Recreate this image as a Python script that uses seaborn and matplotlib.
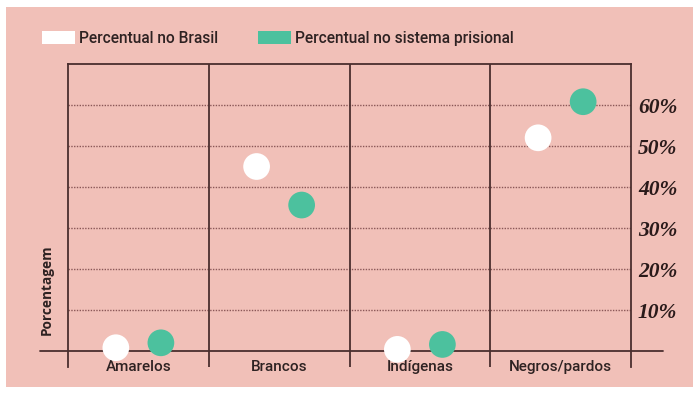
import matplotlib
matplotlib.use("Agg")
import matplotlib.pyplot as plt
from matplotlib.patches import Patch, Rectangle
import seaborn as sns
import pandas as pd

# Population share by race/colour: Brazil vs. prison system (%)
categorias = ["Amarelos", "Brancos", "Indígenas", "Negros/pardos"]
brasil = [0.8, 45.0, 0.4, 52.0]
prisional = [2.0, 35.6, 1.6, 60.8]
series = ["Percentual no Brasil", "Percentual no sistema prisional"]
ticks_y = [10, 20, 30, 40, 50, 60]
tick_labels_y = ["10%", "20%", "30%", "40%", "50%", "60%"]

BG = "#f1c0b8"
INK = "#4a2e2e"
GREEN = "#4cc19e"
cores = {series[0]: "#ffffff", series[1]: GREEN}
deslocamento = {series[0]: -0.16, series[1]: 0.16}

rows = []
for serie, valores in zip(series, [brasil, prisional]):
    for i, (cat, v) in enumerate(zip(categorias, valores)):
        rows.append({"categoria": cat, "serie": serie, "valor": v,
                     "pos": i + deslocamento[serie]})
df = pd.DataFrame(rows)

sns.set_theme(style="white")
plt.rcParams["font.family"] = ["Roboto", "DejaVu Sans"]
plt.rcParams["font.weight"] = "medium"

fig = plt.figure(figsize=(6.99, 3.93), dpi=100)
fig.patch.set_facecolor("white")
fig.patches.append(Rectangle((6 / 699, 1 - 387 / 393), 687 / 699, 380 / 393,
                             transform=fig.transFigure, facecolor=BG,
                             edgecolor="none", zorder=-10))

ax = fig.add_axes([68 / 699, 1 - 367 / 393, 563 / 699, 303 / 393])
ax.set_facecolor(BG)

sns.scatterplot(data=df, x="pos", y="valor", hue="serie", palette=cores,
                s=370, edgecolor="none", legend=False, ax=ax, zorder=4)

ax.set_xlim(-0.5, 3.5)
ax.set_ylim(-3.9, 70)

# column separators and baseline
for xv in [0.5, 1.5, 2.5]:
    ax.axvline(xv, color=INK, lw=1.3, zorder=2)
ax.axhline(0, xmin=-0.05, xmax=1.056, color=INK, lw=1.3, clip_on=False, zorder=3)

for side in ["left", "right", "top"]:
    ax.spines[side].set_color(INK)
    ax.spines[side].set_linewidth(1.3)
ax.spines["bottom"].set_visible(False)

# dotted grid for percentage levels
ax.set_yticks(ticks_y, tick_labels_y)
ax.yaxis.tick_right()
ax.grid(axis="y", linestyle=(0, (1, 1)), color="#8a5757", lw=1.0, zorder=1)
ax.grid(axis="x", visible=False)
ax.tick_params(axis="y", length=0, pad=5)
for lab in ax.get_yticklabels():
    lab.set_fontfamily(["Liberation Serif", "DejaVu Serif"])
    lab.set_fontstyle("italic")
    lab.set_fontweight("bold")
    lab.set_fontsize(15.5)
    lab.set_color("#2a1a1a")

ax.set_xticks(range(len(categorias)), categorias)
ax.tick_params(axis="x", length=0, pad=-5, labelsize=11, labelcolor="#2e2222")
ax.set_xlabel("")
ax.set_ylabel("")

fig.text(47 / 699, 1 - 290 / 393, "Porcentagem", rotation=90, ha="center",
         va="center", fontsize=9.8, fontweight="bold", color="#2e2222",
         family=["Open Sans", "DejaVu Sans"])

handles = [Patch(facecolor=cores[s], edgecolor="none", label=s) for s in series]
fig.legend(handles=handles, loc="upper left", ncol=2, frameon=False,
           bbox_to_anchor=(42 / 699, 1 - 31 / 393), borderaxespad=0,
           borderpad=0, fontsize=11.2, handlelength=2.1, handleheight=0.92,
           handletextpad=0.3, columnspacing=2.55, labelcolor="#2e2222")

fig.savefig("out.png", dpi=100, facecolor=fig.get_facecolor())
